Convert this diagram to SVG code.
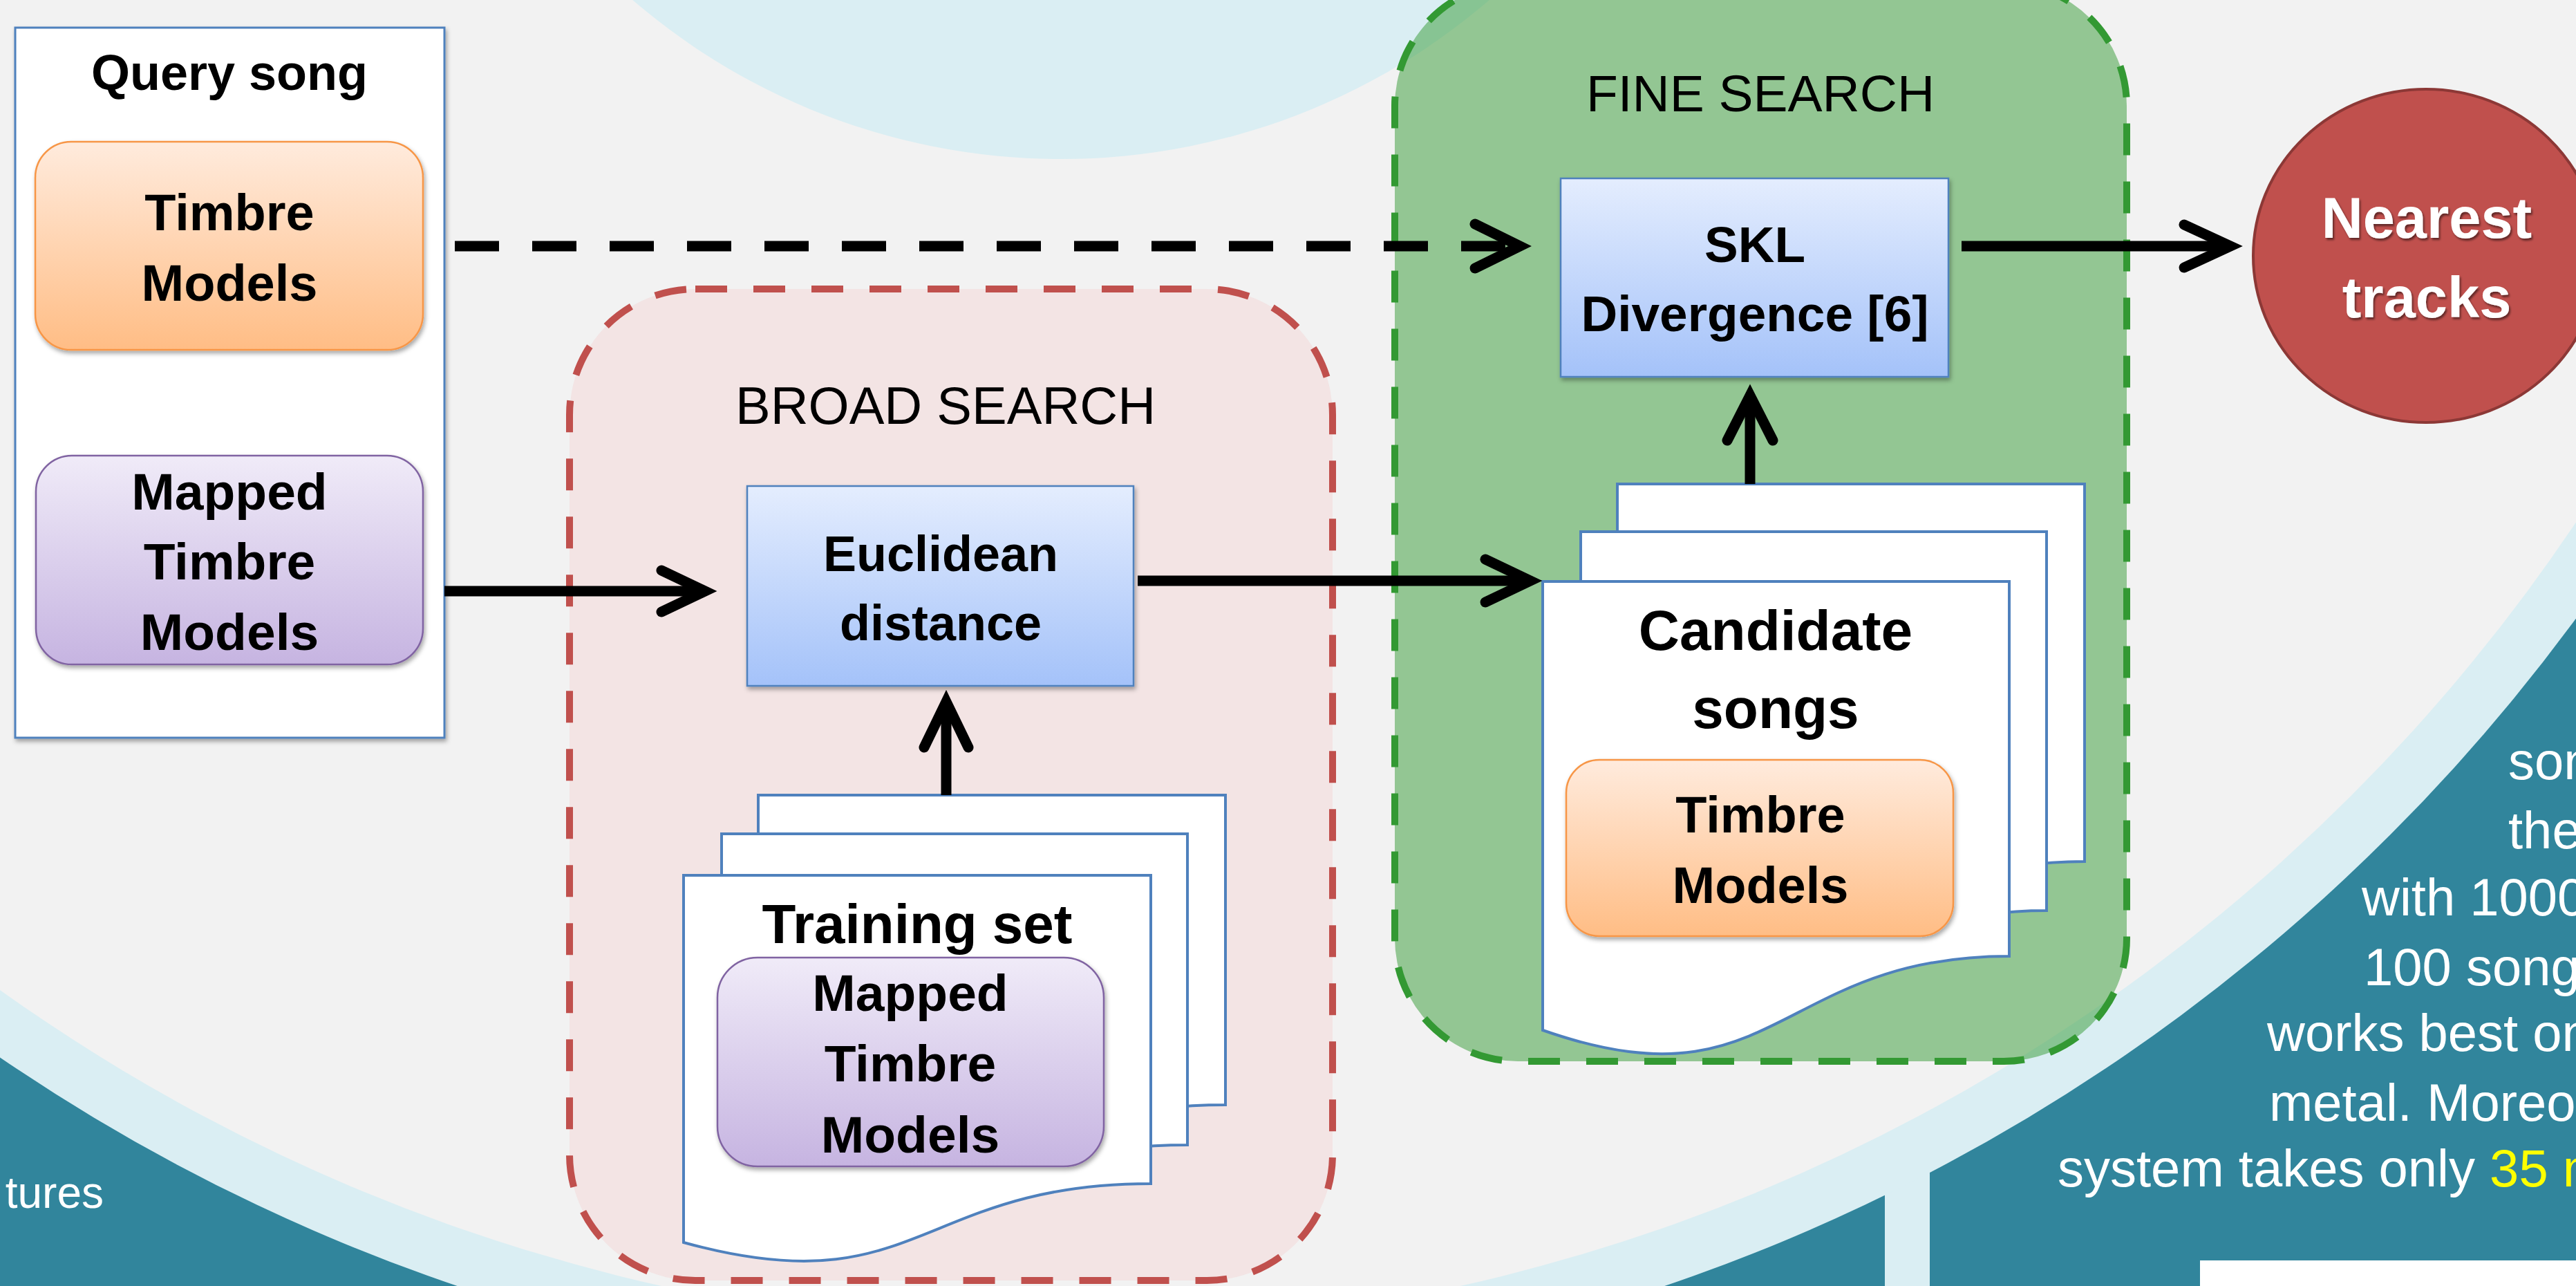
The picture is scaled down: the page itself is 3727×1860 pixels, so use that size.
<svg xmlns="http://www.w3.org/2000/svg" width="3727" height="1860" viewBox="0 0 3727 1860">
<defs>
<style>
.bx{font-family:"Liberation Sans",Arial,sans-serif;font-weight:bold;fill:#000;text-anchor:middle}
.hd{font-family:"Liberation Sans",Arial,sans-serif;font-weight:normal;fill:#000;text-anchor:middle}
.wt{font-family:"Liberation Sans",Arial,sans-serif;fill:#fff}
.page{fill:#fff;stroke:#4F81BD;stroke-width:4}
.ln{fill:none;stroke:#000;stroke-width:15}
.hd2{fill:none;stroke:#000;stroke-width:15;stroke-linecap:round;stroke-linejoin:miter}
.orange{fill:url(#gOrange);stroke:#F79646;stroke-width:2.5}
.purple{fill:url(#gPurple);stroke:#8064A2;stroke-width:2.5}
.blue{fill:url(#gBlue);stroke:#4F81BD;stroke-width:2.5}
</style>
<linearGradient id="gOrange" x1="0" y1="0" x2="0" y2="1"><stop offset="0" stop-color="#FFEBDD"/><stop offset="1" stop-color="#FFBD85"/></linearGradient>
<linearGradient id="gPurple" x1="0" y1="0" x2="0" y2="1"><stop offset="0" stop-color="#F0EBF8"/><stop offset="1" stop-color="#C6B4E1"/></linearGradient>
<linearGradient id="gBlue" x1="0" y1="0" x2="0" y2="1"><stop offset="0" stop-color="#E4EDFE"/><stop offset="1" stop-color="#A4C2F9"/></linearGradient>
<filter id="sh" x="-10%" y="-10%" width="130%" height="130%"><feDropShadow dx="2" dy="4" stdDeviation="3" flood-color="#000" flood-opacity="0.35"/></filter>
<filter id="tsh" x="-10%" y="-10%" width="130%" height="140%"><feDropShadow dx="2" dy="3" stdDeviation="1.5" flood-color="#000" flood-opacity="0.5"/></filter>
</defs>

<g id="background">
<rect x="0" y="0" width="3727" height="1860" fill="#31859C"/>
<rect x="2727" y="1500" width="65" height="360" fill="#DAEEF3"/>
<circle cx="1535" cy="-716" r="2720" fill="#DAEEF3"/>
<circle cx="1535" cy="-716" r="2640" fill="#F2F2F2"/>
<circle cx="1535" cy="-720" r="950" fill="#DAEEF3"/>
<rect x="3183" y="1823" width="544" height="37" fill="#fff"/>
<text class="wt" x="150" y="1747" font-size="64" text-anchor="end">tures</text>
<g class="wt" font-size="76">
<text x="3629" y="1127">son</text>
<text x="3629" y="1227">the</text>
<text x="3417" y="1324">with 1000</text>
<text x="3420" y="1425">100 song</text>
<text x="3280" y="1520">works best on</text>
<text x="3283" y="1621">metal. Moreo</text>
<text x="2977" y="1716">system takes only <tspan fill="#FFFF00">35 m</tspan></text>
</g>
</g>

<g id="broad-search">
<rect x="824" y="418" width="1104" height="1434" rx="182" fill="#F2DCDB" fill-opacity="0.65" stroke="#C0504D" stroke-width="10" stroke-dasharray="46 38"/>
<text class="hd" x="1368" y="613" font-size="76">BROAD SEARCH</text>
</g>

<g id="fine-search">
<rect x="2018" y="-25" width="1059" height="1560" rx="178" fill="#339933" fill-opacity="0.5" stroke="#339933" stroke-width="10" stroke-dasharray="46 38"/>
<text class="hd" x="2547" y="161" font-size="75">FINE SEARCH</text>
</g>

<g id="query-song">
<rect x="22" y="40" width="621" height="1027" fill="#fff" stroke="#4F81BD" stroke-width="3" filter="url(#sh)"/>
<text class="bx" x="332" y="130" font-size="72">Query song</text>
</g>

<g id="query-timbre-models">
<rect class="orange" x="51" y="205" width="561" height="301" rx="52" filter="url(#sh)"/>
<text class="bx" x="332" y="333" font-size="74">Timbre</text>
<text class="bx" x="332" y="435" font-size="74">Models</text>
</g>

<g id="query-mapped-timbre-models">
<rect class="purple" x="52" y="659" width="560" height="302" rx="52" filter="url(#sh)"/>
<text class="bx" x="332" y="737" font-size="75">Mapped</text>
<text class="bx" x="332" y="838" font-size="75">Timbre</text>
<text class="bx" x="332" y="940" font-size="75">Models</text>
</g>

<g id="euclidean-distance">
<rect class="blue" x="1081" y="703" width="559" height="289" filter="url(#sh)"/>
<text class="bx" x="1361" y="826" font-size="72">Euclidean</text>
<text class="bx" x="1361" y="926" font-size="72">distance</text>
</g>

<g id="training-set">
<path class="page" d="M1097,1150 H1773 V1598 C1435,1598 1435,1776.5 1097,1683 Z"/>
<path class="page" d="M1044,1206 H1718 V1656 C1381,1656 1381,1834.5 1044,1741 Z"/>
<path class="page" d="M989,1266 H1665 V1712 C1327,1712 1327,1890.5 989,1797 Z"/>
<text class="bx" x="1327" y="1364" font-size="80">Training set</text>
<rect class="purple" x="1038" y="1385" width="559" height="302" rx="58" filter="url(#sh)"/>
<text class="bx" x="1317" y="1462" font-size="75">Mapped</text>
<text class="bx" x="1317" y="1564" font-size="75">Timbre</text>
<text class="bx" x="1317" y="1667" font-size="75">Models</text>
</g>

<g id="skl-divergence">
<rect class="blue" x="2258" y="258" width="561" height="287" filter="url(#sh)"/>
<text class="bx" x="2539" y="379" font-size="73">SKL</text>
<text class="bx" x="2539" y="479" font-size="73">Divergence [6]</text>
</g>

<g id="candidate-songs">
<path class="page" d="M2340,700 H3016 V1246 C2678,1246 2678,1471 2340,1353 Z"/>
<path class="page" d="M2287,769 H2961 V1317 C2624,1317 2624,1542 2287,1424 Z"/>
<path class="page" d="M2232,841 H2907 V1383 C2569.5,1383 2569.5,1608 2232,1490 Z"/>
<text class="bx" x="2569" y="940" font-size="82">Candidate</text>
<text class="bx" x="2569" y="1053" font-size="82">songs</text>
<rect class="orange" x="2266" y="1099" width="560" height="255" rx="48" filter="url(#sh)"/>
<text class="bx" x="2547" y="1204" font-size="74">Timbre</text>
<text class="bx" x="2547" y="1306" font-size="74">Models</text>
</g>

<g id="nearest-tracks">
<ellipse cx="3510" cy="370" rx="250" ry="241" fill="#C0504D" stroke="#8C3836" stroke-width="4"/>
<g filter="url(#tsh)">
<text class="bx" x="3511" y="344" font-size="83" fill="#fff" style="fill:#fff">Nearest</text>
<text class="bx" x="3511" y="459" font-size="83" fill="#fff" style="fill:#fff">tracks</text>
</g>
</g>

<g id="connectors">
<g id="query-timbre-to-skl">
<path class="ln" d="M658,356 H2190" stroke-dasharray="64 48"/>
<path class="hd2" d="M2134,324 L2199,356 L2134,388"/>
</g>
<g id="query-mapped-to-euclidean">
<path class="ln" d="M643,855 H1012"/>
<path class="hd2" d="M957,825 L1020,855 L957,885"/>
</g>
<g id="euclidean-to-candidates">
<path class="ln" d="M1646,840 H2206"/>
<path class="hd2" d="M2149,809 L2214,840 L2149,871"/>
</g>
<g id="training-to-euclidean">
<path class="ln" d="M1369,1150 V1022"/>
<path class="hd2" d="M1337,1081 L1369,1015 L1401,1081"/>
</g>
<g id="candidates-to-skl">
<path class="ln" d="M2532,700 V580"/>
<path class="hd2" d="M2499,637 L2532,572 L2565,637"/>
</g>
<g id="skl-to-nearest">
<path class="ln" d="M2838,356 H3220"/>
<path class="hd2" d="M3160,325 L3227,356 L3160,387"/>
</g>
</g>
</svg>
